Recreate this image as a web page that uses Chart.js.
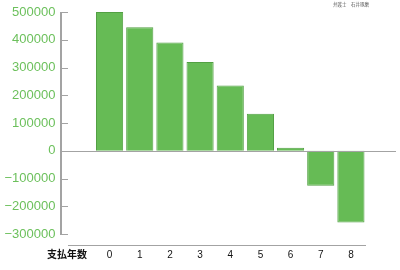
<!DOCTYPE html>
<html>
<head>
<meta charset="utf-8">
<script src="https://cdn.jsdelivr.net/npm/chart.js@4"></script>
<style>
  html, body { margin: 0; padding: 0; background: #fff; }
  #wrap { width: 400px; height: 270px; }
</style>
</head>
<body>
<div id="wrap"><canvas id="chart" width="400" height="270"></canvas></div>
<script>
// data
const years = ["0", "1", "2", "3", "4", "5", "6", "7", "8"];
const balance = [500000, 445000, 390000, 320000, 235000, 133000, 11000, -126000, -259000];
const yMin = -300000;
const yMax = 500000;
const yStep = 100000;
const xTitle = "支払年数";
const credit = "弁護士　石井琢磨";

const axisGray = "#a3a3a3";

// axis lines, tick marks, zero line and the side texts
const axisPlugin = {
  id: "axisLines",
  afterDraw(chart) {
    const ctx = chart.ctx;
    const yScale = chart.scales.y;
    const xScale = chart.scales.x;
    const axisX = 61;
    const top = Math.round(yScale.getPixelForValue(yMax));
    const bottom = Math.round(yScale.getPixelForValue(yMin));
    ctx.save();
    ctx.fillStyle = axisGray;
    // vertical axis
    ctx.fillRect(axisX - 1, top, 2, bottom - top + 1);
    // tick marks
    for (let v = yMin; v <= yMax; v += yStep) {
      ctx.fillRect(axisX, Math.round(yScale.getPixelForValue(v)), 7, 1);
    }
    // zero line
    ctx.fillRect(axisX, Math.round(yScale.getPixelForValue(0)), 396 - axisX, 1);
    // bottom axis line
    ctx.fillRect(68, 245, xScale.right - 68, 1);
    // x title
    ctx.fillStyle = "#111";
    ctx.font = "bold 10px 'Noto Sans CJK JP'";
    ctx.textBaseline = "middle";
    ctx.textAlign = "left";
    ctx.fillText(xTitle, 47, 254);
    // credit
    ctx.fillStyle = "#555";
    ctx.font = "4.5px 'Noto Sans CJK JP'";
    ctx.fillText(credit, 333, 4);
    ctx.restore();
  }
};

new Chart(document.getElementById("chart"), {
  type: "bar",
  data: {
    labels: years,
    datasets: [{
      data: balance,
      backgroundColor: "#66bb55",
      borderColor: "#52a043",
      borderWidth: 1,
      categoryPercentage: 1,
      barPercentage: 0.9
    }]
  },
  options: {
    responsive: false,
    animation: false,
    layout: { padding: { left: 3, right: 34, top: 12, bottom: 9 } },
    plugins: { legend: { display: false }, tooltip: { enabled: false } },
    scales: {
      x: {
        grid: { display: false, drawTicks: false },
        border: { display: false },
        afterFit: s => { s.height = 27; },
        ticks: {
          color: "#111",
          font: { family: "'Liberation Sans', Arial", size: 10 },
          padding: 15,
          maxRotation: 0
        }
      },
      y: {
        min: yMin,
        max: yMax,
        grid: { display: false, drawTicks: false },
        border: { display: false },
        afterFit: s => {
          s.width = 91.5;
          // tick padding also gets added above/below, drop it
          s.paddingTop = 0;
          s.paddingBottom = 0;
        },
        ticks: {
          stepSize: yStep,
          color: "#6cc05c",
          font: { family: "'Liberation Sans', Arial", size: 13 },
          padding: 39,
          callback: v => (v < 0 ? "\u2212" + Math.abs(v) : String(v))
        }
      }
    }
  },
  plugins: [axisPlugin]
});
</script>
</body>
</html>
